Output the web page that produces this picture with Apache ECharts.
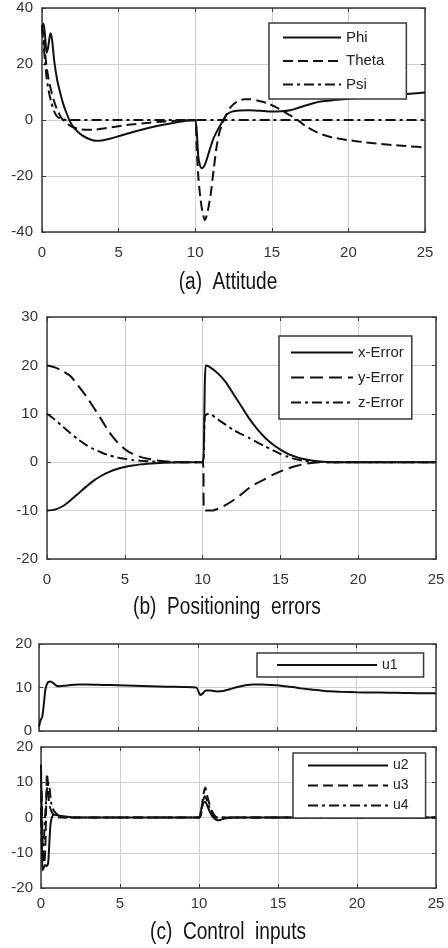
<!DOCTYPE html>
<html>
<head>
<meta charset="utf-8">
<script src="https://cdn.jsdelivr.net/npm/echarts@6/dist/echarts.min.js"></script>
<style>
html,body{margin:0;padding:0;background:#fff;}
#chart{width:448px;height:948px;}
</style>
</head>
<body>
<div id="chart"></div>
<script>
// ---------- tick labels ----------
const xTicks = [0, 5, 10, 15, 20, 25];
const yTicksA = [-40, -20, 0, 20, 40];
const yTicksB = [-20, -10, 0, 10, 20, 30];
const yTicksC1 = [0, 10, 20];
const yTicksC2 = [-20, -10, 0, 10, 20];

// ---------- captions ----------
const captions = ['(a)  Attitude', '(b)  Positioning  errors', '(c)  Control  inputs'];

// ---------- (a) Attitude ----------
const phiT = [0, 0.1, 0.2, 0.3, 0.4, 0.55, 0.65, 0.8, 1.0, 1.2, 1.4, 1.6, 1.8, 2.0, 2.3, 2.6, 3.0, 3.5, 4.0, 4.5, 5.0, 6.0, 7.0, 8.0, 9.0, 9.8, 10.0, 10.1, 10.2, 10.3, 10.42, 10.55, 10.7, 10.95, 11.2, 11.5, 11.75, 12.05, 12.4, 12.9, 13.5, 14.2, 15.0, 15.6, 16.2, 16.7, 17.2, 17.7, 18.2, 19.0, 20.0, 21.0, 22.0, 23.0, 24.0, 25.0];
const phiV = [33, 34.5, 30, 24, 26, 31, 29, 21, 14, 9.5, 5.5, 2.5, -0.2, -2.2, -4, -5.4, -6.6, -7.4, -7.2, -6.6, -5.8, -4.2, -2.8, -1.6, -0.6, -0.1, 0, -4, -13, -16, -17.2, -16.8, -15, -10.6, -6.5, -3.2, -0.8, 1.9, 3.0, 3.4, 3.5, 3.3, 3.0, 3.1, 3.5, 4.3, 5.2, 6.0, 6.6, 7.1, 7.6, 8.1, 8.6, 9.0, 9.4, 9.8];
const thetaT = [0, 0.1, 0.2, 0.3, 0.45, 0.6, 0.8, 1.0, 1.3, 1.6, 2.0, 2.5, 3.0, 3.5, 4.0, 5.0, 6.0, 7.0, 8.0, 9.0, 10.0, 10.08, 10.2, 10.35, 10.5, 10.63, 10.8, 11.0, 11.2, 11.4, 11.6, 11.8, 12.0, 12.3, 12.7, 13.2, 13.6, 14.1, 14.7, 15.3, 15.9, 16.4, 16.8, 17.3, 17.8, 18.3, 19.0, 20.0, 21.0, 22.0, 23.0, 24.0, 25.0];
const thetaV = [34, 30, 24, 19, 14, 10.5, 6.5, 3.5, 0.5, -1.2, -2.5, -3.3, -3.5, -3.4, -3.0, -2.2, -1.5, -1.0, -0.5, -0.2, 0, -8, -20, -28.5, -33.5, -35.8, -33, -27, -18, -9.5, -4, -1, 1.5, 4.5, 6.5, 7.4, 7.4, 6.9, 6.0, 4.5, 2.6, 1.0, -0.5, -2.5, -4.0, -5.2, -6.3, -7.2, -7.9, -8.5, -9.0, -9.4, -9.8];
const psiT = [0, 0.1, 0.2, 0.3, 0.45, 0.6, 0.8, 1.0, 1.3, 1.6, 5, 10, 15, 20, 25];
const psiV = [33, 27, 21, 15, 10, 6.5, 3, 1.2, 0.3, 0, 0, 0, 0, 0, 0];

// ---------- (b) Positioning errors ----------
const xErrT = [0, 0.5, 1.0, 1.5, 2.0, 2.5, 3.0, 3.5, 4.0, 4.5, 5.0, 5.5, 6.0, 7.0, 8.0, 9.0, 10.0, 10.05, 10.2, 10.4, 11.0, 11.5, 12.0, 12.5, 13.0, 13.5, 14.0, 14.5, 15.0, 15.5, 16.0, 16.5, 17.0, 17.5, 18.0, 19.0, 25.0];
const xErrV = [-10, -9.8, -9.1, -7.9, -6.5, -5.1, -3.8, -2.8, -2.0, -1.4, -1.0, -0.7, -0.45, -0.2, -0.05, 0, 0, 0, 20, 19.8, 18.3, 16.5, 14.0, 11.5, 9.0, 6.9, 5.1, 3.7, 2.6, 1.7, 1.1, 0.65, 0.35, 0.15, 0.05, 0, 0];
const yErrT = [0, 0.5, 1.0, 1.5, 2.0, 2.5, 3.0, 3.5, 4.0, 4.5, 5.0, 5.5, 6.0, 6.5, 7.0, 8.0, 9.0, 10.0, 10.12, 10.6, 11.0, 11.5, 12.0, 12.5, 13.0, 13.5, 14.0, 14.5, 15.0, 15.5, 16.0, 16.5, 17.0, 17.5, 25.0];
const yErrV = [20, 19.6, 18.8, 17.8, 15.8, 13.7, 11.3, 8.8, 6.2, 4.2, 2.7, 1.7, 1.1, 0.7, 0.4, 0.1, 0, 0, -10, -10, -9.6, -8.8, -7.8, -6.6, -5.3, -4.3, -3.5, -2.6, -1.9, -1.3, -0.8, -0.4, -0.15, 0, 0];
const zErrT = [0, 0.5, 1.0, 1.5, 2.0, 2.5, 3.0, 3.5, 4.0, 4.5, 5.0, 5.5, 6.0, 7.0, 8.0, 10.0, 10.15, 10.4, 11.0, 11.5, 12.0, 12.5, 13.0, 13.5, 14.0, 14.5, 15.0, 15.5, 16.0, 16.5, 17.0, 18.0, 25.0];
const zErrV = [10, 8.8, 7.4, 6.0, 4.7, 3.6, 2.7, 2.0, 1.4, 1.0, 0.7, 0.45, 0.3, 0.1, 0, 0, 9.5, 10, 8.8, 7.7, 6.6, 5.8, 5.0, 4.1, 3.3, 2.5, 1.7, 1.1, 0.6, 0.3, 0.15, 0, 0];

// ---------- (c) Control inputs ----------
const u1T = [0, 0.1, 0.2, 0.3, 0.4, 0.5, 0.6, 0.75, 0.9, 1.1, 1.3, 1.6, 2.0, 2.5, 3.0, 4.0, 5.0, 6.0, 7.0, 8.0, 9.0, 9.9, 10.05, 10.15, 10.3, 10.5, 10.8, 11.2, 11.6, 12.0, 12.5, 13.0, 13.5, 14.0, 14.5, 15.0, 15.5, 16.0, 16.5, 17.0, 17.5, 18.0, 18.5, 19.0, 20.0, 21.0, 22.0, 23.0, 24.0, 25.0];
const u1V = [1, 2.5, 3.2, 6, 9.5, 10.8, 11.3, 11.4, 11.0, 10.4, 10.3, 10.4, 10.6, 10.7, 10.7, 10.6, 10.5, 10.4, 10.3, 10.2, 10.1, 10.0, 9.0, 8.3, 8.6, 9.3, 9.3, 9.1, 9.2, 9.6, 10.1, 10.5, 10.7, 10.7, 10.6, 10.5, 10.3, 10.1, 9.8, 9.6, 9.4, 9.2, 9.1, 9.0, 8.9, 8.85, 8.8, 8.75, 8.7, 8.7];
const u2T = [0, 0.04, 0.09, 0.15, 0.25, 0.35, 0.45, 0.52, 0.6, 0.7, 0.85, 1.0, 1.3, 1.7, 2.2, 10.0, 10.1, 10.2, 10.3, 10.4, 10.55, 10.7, 10.85, 11.0, 11.2, 11.4, 11.7, 12.2, 25];
const u2V = [15, 2, -15, -14.5, -13.5, -13.8, -13, -8, -2, 0.2, 0.8, 0.7, 0.4, 0.2, 0, 0, 1.5, 3.2, 4.3, 4.4, 3, 1.5, 0.3, -0.4, -0.8, -0.6, -0.2, 0, 0];
const u3T = [0, 0.04, 0.08, 0.13, 0.2, 0.27, 0.33, 0.38, 0.43, 0.5, 0.6, 0.75, 0.9, 1.1, 1.4, 10.0, 10.15, 10.3, 10.4, 10.5, 10.65, 10.8, 11.0, 11.2, 11.5, 25];
const u3V = [0, 8, -4, -11, -13, -9, 4, 12.5, 10, 5, 2.5, 1, 0.3, 0, 0, 0, 2.5, 7, 8.5, 6.5, 4, 2, 0.5, -0.3, 0, 0];
const u4T = [0, 0.04, 0.08, 0.14, 0.2, 0.28, 0.36, 0.45, 0.54, 0.65, 0.8, 1.0, 1.2, 1.5, 10.0, 10.2, 10.35, 10.45, 10.6, 10.75, 10.9, 11.1, 11.4, 25];
const u4V = [0, -6, -12, -10, -5, 2, 7, 10, 8.5, 4, 2, 1, 0.3, 0, 0, 3, 6, 5.5, 3.5, 1.8, 0.6, 0, 0, 0];

// ---------- build ----------
const FONT = 'Liberation Sans, Arial, sans-serif';
const INK = '#111';
const FRAME = '#3a3a3a';
const GRIDC = '#cfcfcf';

function pairs(t, v) { return t.map((x, i) => [x, v[i]]); }
function rng(ticks) { return { min: ticks[0], max: ticks[ticks.length - 1], interval: ticks[1] - ticks[0] }; }

const grids = [
  { left: 42, top: 8, width: 383, height: 224 },
  { left: 47, top: 317, width: 389, height: 242 },
  { left: 39, top: 644, width: 397, height: 87 },
  { left: 41, top: 747, width: 395, height: 141 }
];
const yTickSets = [yTicksA, yTicksB, yTicksC1, yTicksC2];
const xLabelMargin = [13, 13, null, 8];
const yLabelMargin = [9, 9, 7, 8];

const xAxes = [], yAxes = [];
function frameAxis(extra) {
  return Object.assign({
    axisLine: { show: true, onZero: false, lineStyle: { color: FRAME, width: 1.5 } },
    axisTick: { show: true, inside: true, length: 4, lineStyle: { color: FRAME } }
  }, extra);
}
grids.forEach((g, i) => {
  const xr = rng(xTicks), yr = rng(yTickSets[i]);
  xAxes.push(frameAxis({
    gridIndex: i, type: 'value', position: 'bottom', ...xr,
    axisLabel: { show: xLabelMargin[i] !== null, margin: xLabelMargin[i] || 8, color: '#333', fontSize: 15, fontFamily: FONT },
    splitLine: { show: true, lineStyle: { color: GRIDC, width: 1 } }
  }));
  xAxes.push(frameAxis({
    gridIndex: i, type: 'value', position: 'top', ...xr,
    axisLabel: { show: false }, splitLine: { show: false }
  }));
  yAxes.push(frameAxis({
    gridIndex: i, type: 'value', position: 'left', ...yr,
    axisLabel: { show: true, margin: yLabelMargin[i], color: '#333', fontSize: 15, fontFamily: FONT },
    splitLine: { show: true, lineStyle: { color: GRIDC, width: 1 } }
  }));
  yAxes.push(frameAxis({
    gridIndex: i, type: 'value', position: 'right', ...yr,
    axisLabel: { show: false }, splitLine: { show: false }
  }));
});

const SOLID = 'solid', DASH = [10, 5], DASHDOT = [10, 4, 3, 4];
function line(name, t, v, gi, type) {
  return {
    name, type: 'line', xAxisIndex: gi * 2, yAxisIndex: gi * 2,
    data: pairs(t, v), symbol: 'none', showSymbol: false, smooth: 0.25,
    lineStyle: { color: INK, width: 2, type },
    itemStyle: { color: INK },
    emphasis: { disabled: true }, z: 3
  };
}
const series = [
  line('Phi', phiT, phiV, 0, SOLID),
  line('Theta', thetaT, thetaV, 0, DASH),
  line('Psi', psiT, psiV, 0, DASHDOT),
  line('x-Error', xErrT, xErrV, 1, SOLID),
  line('y-Error', yErrT, yErrV, 1, [13, 6]),
  line('z-Error', zErrT, zErrV, 1, DASHDOT),
  line('u1', u1T, u1V, 2, SOLID),
  line('u2', u2T, u2V, 3, SOLID),
  line('u3', u3T, u3V, 3, DASH),
  line('u4', u4T, u4V, 3, DASHDOT)
];

function legend(names, left, top, itemWidth, itemHeight, itemGap, padding, fs) {
  return {
    data: names, orient: 'vertical', left, top, itemWidth, itemHeight, itemGap, padding,
    borderColor: FRAME, borderWidth: 1.5, backgroundColor: '#fff',
    selectedMode: false,
    itemStyle: { opacity: 0 },
    textStyle: { fontSize: fs, color: '#222', fontFamily: FONT }
  };
}

function caption(text, x, y) {
  return { type: 'text', x, y, scaleX: 0.83, style: { text, font: '23px ' + FONT, fill: INK, textAlign: 'center', textVerticalAlign: 'middle' } };
}

const chart = echarts.init(document.getElementById('chart'), null, { renderer: 'canvas' });
chart.setOption({
  animation: false,
  backgroundColor: '#fff',
  grid: grids.map(g => ({ ...g, containLabel: false })),
  xAxis: xAxes,
  yAxis: yAxes,
  legend: [
    legend(['Phi', 'Theta', 'Psi'], 269, 23, 58, 14, 8.5, [7, 22, 7, 13], 15),
    legend(['x-Error', 'y-Error', 'z-Error'], 279, 336, 62, 14, 10, [9, 8, 9, 11], 15),
    legend(['u1'], 257, 653, 100, 14, 8, [5, 26, 5, 19], 14),
    legend(['u2', 'u3', 'u4'], 293, 753, 80, 12, 6, [5.5, 17, 5.5, 14], 14)
  ],
  graphic: [
    caption(captions[0], 228, 283),
    caption(captions[1], 227, 608),
    caption(captions[2], 228, 933)
  ],
  series
});
</script>
</body>
</html>
